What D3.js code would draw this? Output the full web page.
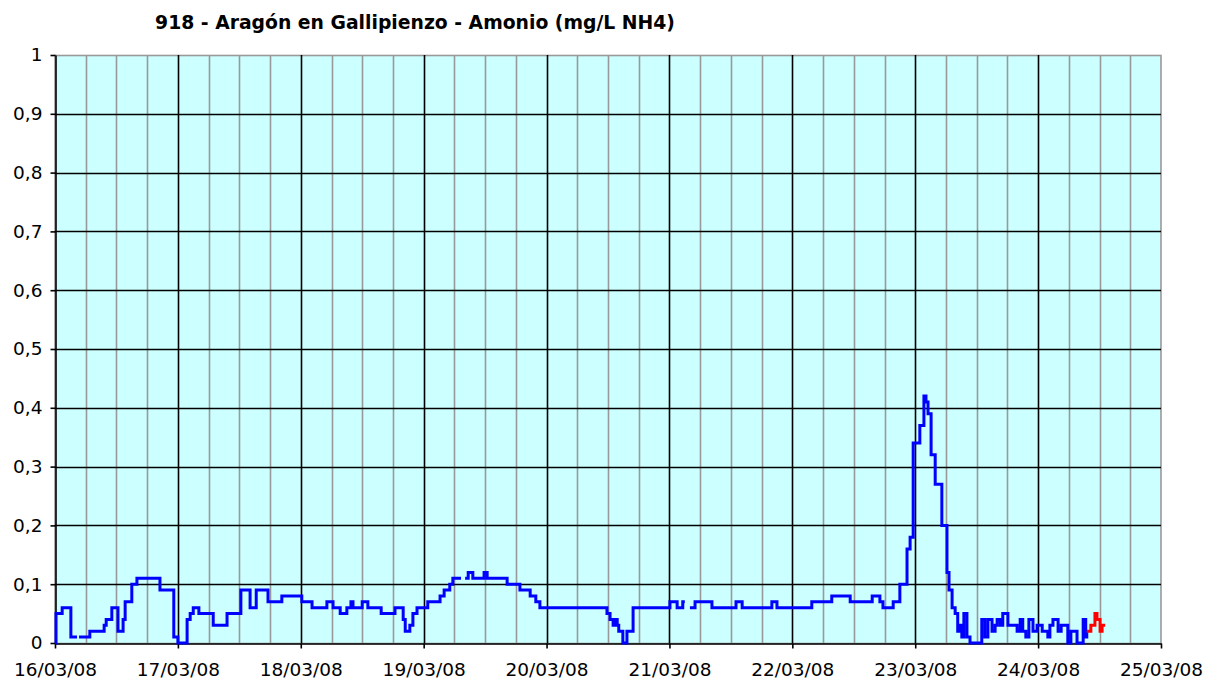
<!DOCTYPE html>
<html><head><meta charset="utf-8">
<script src="https://cdn.jsdelivr.net/npm/d3@7"></script>
<style>
html,body{margin:0;padding:0;background:#fff;}
svg{display:block;}
text{font-family:"DejaVu Sans",Verdana,sans-serif;fill:#000;}
</style></head>
<body>
<svg id="chart" width="1206" height="680"></svg>
<script>
// ---- data (hours since 16/03/08 00:00, ammonium mg/L NH4) ----
const title = "918 - Aragón en Gallipienzo - Amonio (mg/L NH4)";
const dayLabels = ["16/03/08","17/03/08","18/03/08","19/03/08","20/03/08","21/03/08","22/03/08","23/03/08","24/03/08","25/03/08"];
const yTickValues = [0,0.1,0.2,0.3,0.4,0.5,0.6,0.7,0.8,0.9,1];
const yTickLabels = ["0","0,1","0,2","0,3","0,4","0,5","0,6","0,7","0,8","0,9","1"];

// blue series (validated); null = gap in record
const blueHours = [0,0.2,1.4,3.1,4.3,4.7,6.8,9.6,10.0,11.1,12.3,13.3,13.7,15.0,16.0,20.5,23.2,24.0,25.8,26.4,27.0,28.1,30.9,33.6,36.3,38.1,39.3,41.6,44.3,48.2,50.2,53.1,54.3,55.7,57.0,57.8,58.2,60.0,61.1,63.7,66.4,68.0,68.4,69.3,69.9,70.7,72.8,75.2,76.0,76.7,77.1,77.7,79.3,80.1,80.7,81.6,83.8,84.4,88.3,90.8,92.8,93.9,94.7,107.8,108.4,109.0,109.4,109.8,110.1,110.9,111.7,112.9,120.1,121.5,122.6,123.0,124.0,125.0,128.3,133.0,134.2,140.0,141.0,147.8,151.7,155.3,159.6,161.1,161.7,163.7,165.0,166.4,167.0,167.6,168.9,169.7,170.1,170.5,171.1,171.9,173.2,174.2,174.6,175.2,175.8,176.3,176.7,177.1,177.5,178.1,178.7,181.0,181.6,182.2,183.0,183.6,184.0,184.6,185.1,186.1,187.9,188.5,189.0,189.6,190.2,191.0,191.8,192.8,193.9,194.3,194.9,195.9,196.5,197.2,197.8,198.4,199.6,200.8,201.3,201.5];
const blueValues = [0,0.05,0.06,0.01,null,0.01,0.02,0.03,0.04,0.06,0.02,0.04,0.07,0.10,0.11,0.09,0.01,0,0.04,0.05,0.06,0.05,0.03,0.05,0.09,0.06,0.09,0.07,0.08,0.07,0.06,0.07,0.06,0.05,0.06,0.07,0.06,0.07,0.06,0.05,0.06,0.04,0.02,0.03,0.05,0.06,0.07,0.08,0.09,0.09,0.10,0.11,null,0.11,0.12,0.11,0.12,0.11,0.10,0.09,0.08,0.07,0.06,0.05,0.04,0.03,0.04,0.03,0.02,0,0.02,0.06,0.07,0.06,0.07,null,0.06,0.07,0.06,0.07,0.06,0.07,0.06,0.07,0.08,0.07,0.08,0.07,0.06,0.07,0.10,0.16,0.18,0.34,0.37,0.42,0.41,0.39,0.32,0.27,0.20,0.12,0.09,0.06,0.05,0.02,0.03,0.01,0.05,0.01,0,0.04,0.01,0.04,0.02,0.03,0.04,0.03,0.05,0.03,0.02,0.04,0.02,0.01,0.04,0.02,0.03,0.02,0.01,0.03,0.04,0.02,0.03,0.03,0,0.02,0,0.04,0.01,0.02];
// red series (not validated)
const redHours = [201.5,202.3,203.1,203.5,204.1,204.5,205.1];
const redValues = [0.02,0.03,0.05,0.04,0.02,0.03,0.03];

// ---- layout ----
const L = 55, R = 1161, T = 55, B = 643;
const svg = d3.select("#chart");
const x = d3.scaleLinear().domain([0, 216]).range([L, R]);
const y = d3.scaleLinear().domain([0, 1]).range([B, T]);

svg.append("rect").attr("x", L).attr("y", T).attr("width", R - L).attr("height", B - T).attr("fill", "#ccffff");

// minor vertical grid every 6 hours
const minor = d3.range(6, 216, 6).filter(h => h % 24 !== 0);
svg.append("g").selectAll("line").data(minor).join("line")
  .attr("x1", d => Math.round(x(d)) + 0.5).attr("x2", d => Math.round(x(d)) + 0.5)
  .attr("y1", T).attr("y2", B).attr("stroke", "#999").attr("stroke-width", 1.6);

// border (gray)
svg.append("rect").attr("x", L).attr("y", T + 0.5).attr("width", R - L).attr("height", B - T)
  .attr("fill", "none").attr("stroke", "#999").attr("stroke-width", 1.6);

// major vertical grid each day
const days = d3.range(1, 9).map(d => d * 24);
svg.append("g").selectAll("line").data(days).join("line")
  .attr("x1", d => Math.round(x(d)) + 0.5).attr("x2", d => Math.round(x(d)) + 0.5)
  .attr("y1", T).attr("y2", B).attr("stroke", "#000").attr("stroke-width", 1.6);

// horizontal grid
svg.append("g").selectAll("line").data(yTickValues.slice(1, -1)).join("line")
  .attr("x1", L).attr("x2", R)
  .attr("y1", d => Math.round(y(d)) + 0.5).attr("y2", d => Math.round(y(d)) + 0.5)
  .attr("stroke", "#000").attr("stroke-width", 1.6);

// axes
const xAxis = d3.axisBottom(x).tickValues(d3.range(0, 217, 24)).tickSize(5).tickSizeOuter(0)
  .tickFormat((d, i) => dayLabels[i]);
const gx = svg.append("g").attr("transform", `translate(0,${B + 0.5})`).call(xAxis);
gx.select(".domain").attr("stroke", "#000").attr("stroke-width", 1.6);
gx.selectAll(".tick line").attr("stroke", "#000").attr("stroke-width", 1.6);
gx.selectAll(".tick text").attr("font-size", 18.5).attr("font-family", "DejaVu Sans").attr("y", 0).attr("dy", "32px").attr("fill", "#000");

const yAxis = d3.axisLeft(y).tickValues(yTickValues).tickSize(5).tickSizeOuter(0)
  .tickFormat((d, i) => yTickLabels[i]);
const gy = svg.append("g").attr("transform", `translate(${L + 0.5},0)`).call(yAxis);
gy.select(".domain").attr("stroke", "#000").attr("stroke-width", 1.6);
gy.selectAll(".tick line").attr("stroke", "#000").attr("stroke-width", 1.6);
gy.selectAll(".tick text").attr("font-size", 18.5).attr("font-family", "DejaVu Sans").attr("x", -13).attr("fill", "#000");

// series
function toPoints(hours, values) {
  const pts = [];
  for (let i = 0; i < hours.length; i++) {
    if (values[i] == null && pts.length && pts[pts.length - 1].v != null) {
      pts.push({h: hours[i], v: pts[pts.length - 1].v});
    }
    pts.push({h: hours[i], v: values[i]});
  }
  return pts;
}
const line = d3.line().defined(d => d.v != null).x(d => x(d.h)).y(d => y(d.v)).curve(d3.curveStepAfter);
svg.append("path").datum(toPoints(blueHours, blueValues)).attr("d", line)
  .attr("fill", "none").attr("stroke", "#0000ff").attr("stroke-width", 3).attr("stroke-linejoin", "miter");
svg.append("path").datum(toPoints(redHours, redValues)).attr("d", line)
  .attr("fill", "none").attr("stroke", "#ff0000").attr("stroke-width", 3);

// title
svg.append("text").attr("x", 415).attr("y", 29).attr("text-anchor", "middle")
  .attr("font-size", 18.8).attr("font-weight", "bold").text(title);
</script>
</body></html>
